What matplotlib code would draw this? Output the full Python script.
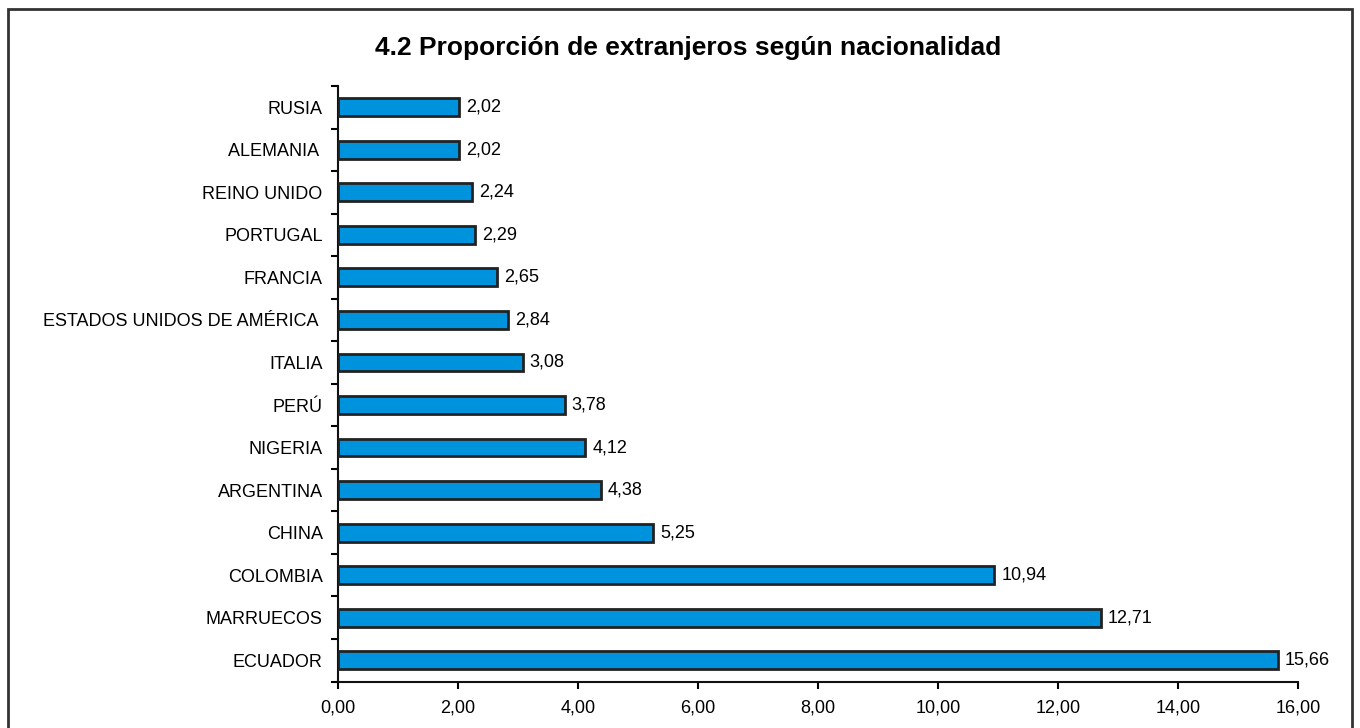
import matplotlib
matplotlib.use("Agg")
import matplotlib.pyplot as plt
from matplotlib.patches import Rectangle
import numpy as np

plt.rcParams['font.family'] = ['Liberation Sans', 'DejaVu Sans']

categories = ["ECUADOR", "MARRUECOS", "COLOMBIA", "CHINA", "ARGENTINA", "NIGERIA",
              "PERÚ", "ITALIA", "ESTADOS UNIDOS DE AMÉRICA ", "FRANCIA", "PORTUGAL",
              "REINO UNIDO", "ALEMANIA ", "RUSIA"]
values = [15.66, 12.71, 10.94, 5.25, 4.38, 4.12, 3.78, 3.08, 2.84, 2.65, 2.29, 2.24, 2.02, 2.02]
xticks = [0, 2, 4, 6, 8, 10, 12, 14, 16]
title = "4.2 Proporción de extranjeros según nacionalidad"

def fmt(v):
    return f"{v:.2f}".replace(".", ",")

FS = 13
fig = plt.figure(figsize=(13.6, 7.28), dpi=100)
ax = fig.add_axes([338/1360, 1-681.5/728, (1298-338)/1360, (681.5-86)/728])

y = np.arange(len(categories))
ax.barh(y, values, height=0.42, color="#0093DD", edgecolor="#222222", linewidth=2, zorder=3)
ax.set_ylim(-0.5, len(categories)-0.5)
ax.set_xlim(0, 16)

ax.set_yticks(y)
ax.set_yticklabels(categories, fontsize=FS)
ax.set_yticks(np.arange(-0.5, len(categories), 1), minor=True)
ax.tick_params(axis='y', which='major', length=0, pad=11)
ax.tick_params(axis='y', which='minor', length=5, width=1.5, direction='out')

ax.set_xticks(xticks)
ax.set_xticklabels([fmt(v) for v in xticks], fontsize=FS)
ax.tick_params(axis='x', length=5, width=1.5, direction='out', pad=8)

for s in ['top', 'right']:
    ax.spines[s].set_visible(False)
for s in ['left', 'bottom']:
    ax.spines[s].set_linewidth(1.5)
    ax.spines[s].set_color("#111111")

for yi, v in zip(y, values):
    ax.annotate(fmt(v), xy=(v, yi), xytext=(5, 0), textcoords='offset points',
                va='center', ha='left', fontsize=FS)

fig.text(688/1360, 1-48/728, title, ha='center', va='center', fontsize=19, fontweight='bold')

fig.patches.append(Rectangle((8/1360, -0.05), (1352-8)/1360, 1.05 - 9/728,
                             transform=fig.transFigure, fill=False,
                             edgecolor="#333333", linewidth=2))

fig.savefig("out.png", dpi=100)
